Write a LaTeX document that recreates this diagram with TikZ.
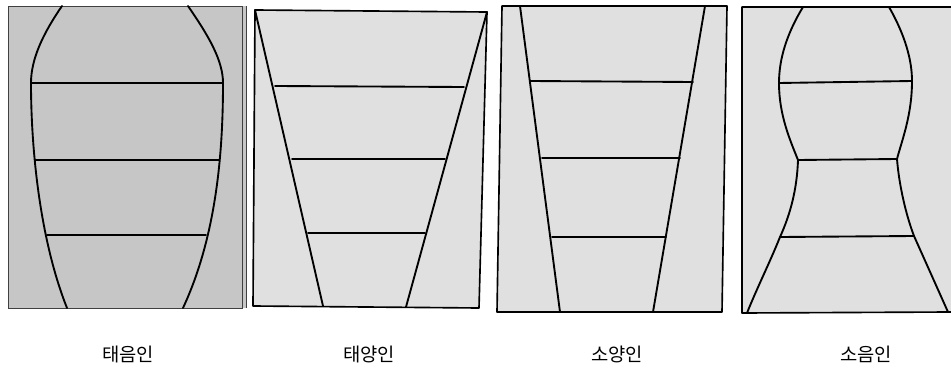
\documentclass[tikz,border=0pt]{standalone}
\usepackage{fontspec}
\newfontfamily\kofont{Noto Sans CJK KR}
\definecolor{darkpanel}{RGB}{198,198,198}
\definecolor{lightpanel}{RGB}{224,224,224}

\begin{document}
\begin{tikzpicture}[x=0.03cm, y=-0.03cm,
        frame/.style={draw=black, line width=1.4pt, line join=round},
        contour/.style={draw=black, line width=1.6pt, line cap=round, line join=round},
        caption/.style={font=\kofont\fontsize{16}{19}\selectfont, inner sep=0pt}
    ]
    \useasboundingbox (0,0) rectangle (951,368);

    % 태음인
    \fill[darkpanel] (8,6) rectangle (246,308);
    \draw[draw=black!75, line width=0.8pt] (8,6) rectangle (242,308);
    \draw[draw=black!75, line width=0.8pt] (246,6) -- (246,308);
    \draw[contour] (62,6) .. controls (42,35) and (31,60) .. (31,83)
        .. controls (31,150) and (40,240) .. (67,308);
    \draw[contour] (188,6) .. controls (208,35) and (223,60) .. (223,83)
        .. controls (223,150) and (217,235) .. (183,308);
    \draw[contour] (31,83) -- (223,83);
    \draw[contour] (35,160) -- (219,160);
    \draw[contour] (47,235) -- (206,235);

    % 태양인
    \filldraw[frame, fill=lightpanel] (255,10) -- (487,12) -- (479,308) -- (253,306) -- cycle;
    \draw[contour] (255,10) -- (323,306);
    \draw[contour] (487,12) -- (406,307);
    \draw[contour] (275,86) -- (464,87);
    \draw[contour] (292,159) -- (445,159);
    \draw[contour] (308,233) -- (425,233);

    % 소양인
    \filldraw[frame, fill=lightpanel] (502,6) -- (727,6) -- (722,312) -- (497,312) -- cycle;
    \draw[contour] (520,6) -- (560,312);
    \draw[contour] (705,6) -- (653,312);
    \draw[contour] (530,81) -- (693,82);
    \draw[contour] (542,158) -- (680,158);
    \draw[contour] (552,237) -- (666,237);

    % 소음인
    \fill[lightpanel] (742,7) rectangle (951,313);
    \draw[frame] (951,7) -- (742,7) -- (742,313) -- (951,312);
    \draw[contour] (803,7) .. controls (786,35) and (779,60) .. (779,83)
        .. controls (779,115) and (790,140) .. (798,160)
        .. controls (797,190) and (790,215) .. (780,237)
        .. controls (770,262) and (757,288) .. (747,313);
    \draw[contour] (889,7) .. controls (905,35) and (912,60) .. (912,81)
        .. controls (912,115) and (902,140) .. (897,159)
        .. controls (899,185) and (906,215) .. (914,236)
        -- (948,312);
    \draw[contour] (779,83) -- (912,81);
    \draw[contour] (798,160) -- (897,159);
    \draw[contour] (780,237) -- (914,236);

    \node[caption] (taeeum) at (128,354) {태음인};
    \node[caption] (taeyang) at (369,354) {태양인};
    \node[caption] (soyang) at (617,354) {소양인};
    \node[caption] (soeum) at (866,354) {소음인};

\end{tikzpicture}
\end{document}
